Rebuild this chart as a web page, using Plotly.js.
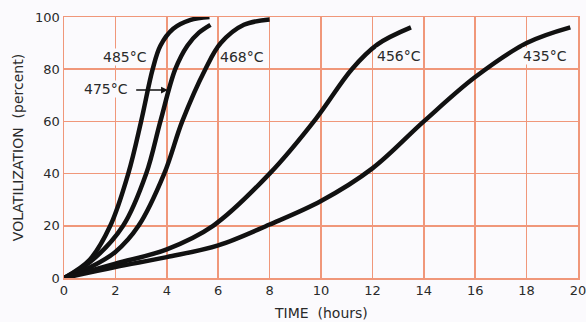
<!DOCTYPE html>
<html>
<head>
<meta charset="utf-8">
<script src="https://cdn.plot.ly/plotly-3.0.1.min.js"></script>
<style>html,body{margin:0;padding:0;background:#fbfafd;}</style>
</head>
<body>
<div id="chart" style="width:586px;height:322px;"></div>
<script>
// Volatilization (percent) vs time (hours) at several temperatures
const t485 = [0, 1, 1.8, 2.5, 3.0, 3.45, 3.75, 4.25, 4.9, 5.66];
const v485 = [0, 7, 20, 40, 60, 80, 89, 95.5, 98.8, 100];

const t475 = [0, 1, 2.3, 3.2, 3.75, 4.33, 4.8, 5.25, 5.7];
const v475 = [0, 6, 20, 40, 60, 80, 89, 94, 97];

const t468 = [0, 1, 2, 2.9, 3.9, 4.6, 5.5, 6.1, 7.0, 8.0];
const v468 = [0, 4, 10, 20, 40, 60, 80, 90, 97, 99];

const t456 = [0, 2, 4, 5.8, 8, 9.8, 11.2, 12.2, 13.5];
const v456 = [0, 5.5, 11, 20, 40, 61, 80, 89.5, 96];

const t435 = [0, 2, 4, 6, 8, 10, 12, 14, 16, 18, 19.7];
const v435 = [0, 4.2, 8, 12.5, 20.5, 29.5, 42, 60, 77, 90, 96];

const xTicks = [0, 2, 4, 6, 8, 10, 12, 14, 16, 18, 20];
const yTicks = [0, 20, 40, 60, 80, 100];

const curveLabels = ['485°C', '475°C', '468°C', '456°C', '435°C'];
const labelX = [2.38, 1.64, 6.93, 13.05, 18.7];
const labelY = [84.6, 72.3, 84.6, 85, 85];

const series = [[t485, v485], [t475, v475], [t468, v468], [t456, v456], [t435, v435]];
const grid = '#f0977a';
const bg = '#fbfafd';
const font = 'DejaVu Sans, sans-serif';

const traces = series.map((s, i) => ({
  x: s[0], y: s[1], type: 'scatter', mode: 'lines', name: curveLabels[i],
  line: {color: '#111111', width: 4.5, shape: 'spline', smoothing: 1.0},
  hoverinfo: 'skip'
}));

const annotations = curveLabels.map((txt, i) => ({
  x: labelX[i], y: labelY[i], xref: 'x', yref: 'y', text: txt, showarrow: false,
  font: {family: font, size: 14, color: '#2a2a2a'}, bgcolor: bg, borderpad: 0
}));
// arrow pointing to the 475°C curve
annotations.push({
  x: 4.04, y: 72, xref: 'x', yref: 'y', ax: 2.75, ay: 72, axref: 'x', ayref: 'y',
  text: '', showarrow: true, arrowhead: 2, arrowsize: 0.9, arrowwidth: 1.5, arrowcolor: '#111'
});
annotations.push({
  x: 0.5, y: -0.134, xref: 'paper', yref: 'paper', text: 'TIME  (hours)', showarrow: false,
  font: {family: font, size: 14, color: '#2a2a2a'}, yanchor: 'middle'
});

const layout = {
  width: 586, height: 322,
  margin: {l: 64, r: 8, t: 17, b: 44},
  paper_bgcolor: bg, plot_bgcolor: bg,
  showlegend: false,
  xaxis: {
    range: [0, 20], tickvals: xTicks, ticktext: xTicks.map(String),
    showgrid: true, gridcolor: grid, gridwidth: 1.5,
    showline: true, linecolor: grid, linewidth: 1.5, mirror: true,
    zeroline: false, ticks: '', ticklen: 0, ticklabeloverflow: 'allow',
    tickfont: {family: font, size: 13, color: '#2a2a2a'}
  },
  yaxis: {
    range: [0, 100], tickvals: yTicks, ticktext: yTicks.map(String),
    showgrid: true, gridcolor: grid, gridwidth: 1.5,
    showline: true, linecolor: grid, linewidth: 1.5, mirror: true,
    zeroline: false, ticks: '', ticklen: 0, ticklabeloverflow: 'allow',
    tickfont: {family: font, size: 13, color: '#2a2a2a'},
    title: {text: 'VOLATILIZATION  (percent)', font: {family: font, size: 14, color: '#2a2a2a'}, standoff: 8}
  },
  annotations: annotations
};

Plotly.newPlot('chart', traces, layout, {displayModeBar: false, staticPlot: true});
</script>
</body>
</html>
